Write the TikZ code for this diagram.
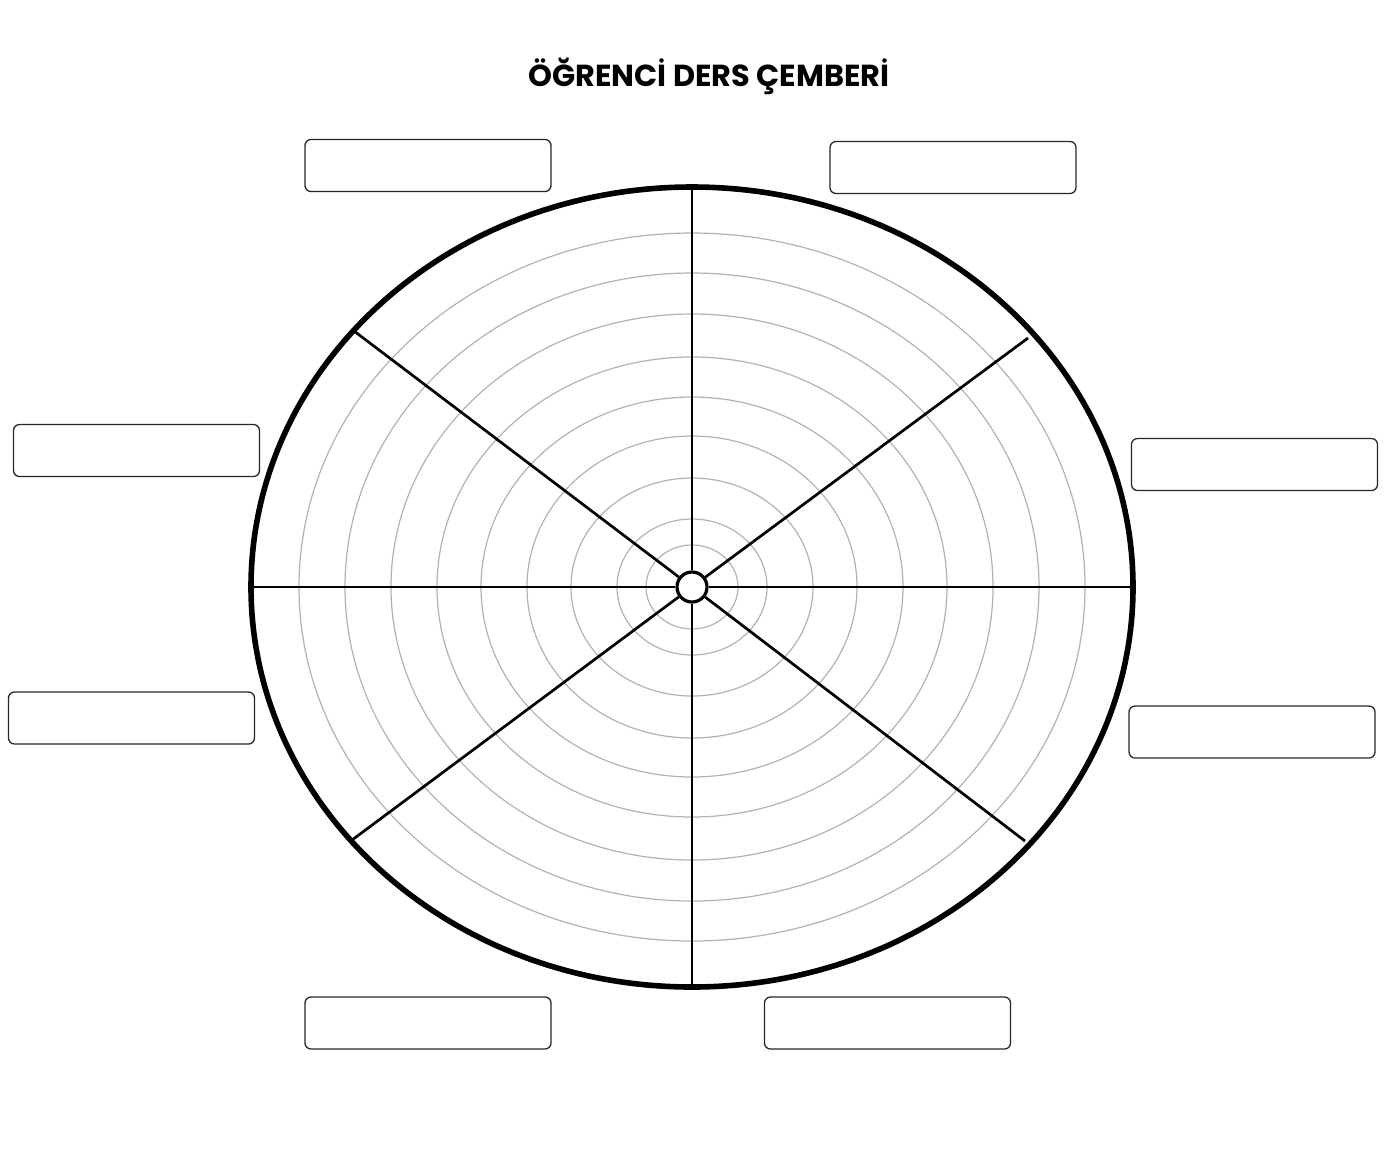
\documentclass[tikz,border=0pt]{standalone}
\usepackage{fontspec}
\newfontfamily\titlefont{Poppins}
\begin{document}
\begin{tikzpicture}[x=0.5pt, y=-0.5pt,
  rim/.style = {line width=2.8pt},
  ring/.style = {black!30, line width=0.6pt},
  spoke/.style = {line width=1.35pt},
  hub/.style = {draw, circle, line width=1.6pt, minimum size=15pt, inner sep=0pt, fill=white},
  slot/.style = {draw=black!85, line width=0.65pt, rounded corners=3pt, minimum width=123pt, minimum height=26pt, inner sep=0pt}]
\useasboundingbox (0,0) rectangle (1385,1175);
\node[anchor=base] (title) at (709,86) {\titlefont\bfseries\fontsize{15.2pt}{18pt}\selectfont ÖĞRENCİ DERS ÇEMBERİ};
\node[hub] (hub) at (692,587) {};
% rings
\draw[ring] (hub.center) ellipse [x radius=46, y radius=42];
\draw[ring] (hub.center) ellipse [x radius=75, y radius=68];
\draw[ring] (hub.center) ellipse [x radius=121, y radius=109];
\draw[ring] (hub.center) ellipse [x radius=165, y radius=151];
\draw[ring] (hub.center) ellipse [x radius=211, y radius=190];
\draw[ring] (hub.center) ellipse [x radius=255, y radius=230];
\draw[ring] (hub.center) ellipse [x radius=301, y radius=273];
\draw[ring] (hub.center) ellipse [x radius=347, y radius=314];
\draw[ring] (hub.center) ellipse [x radius=393, y radius=354];
% rim points
\coordinate (rimN) at (692,189);
\coordinate (rimS) at (692,986);
\coordinate (rimW) at (252,587);
\coordinate (rimE) at (1131,587);
\coordinate (rimNW) at (354,331);
\coordinate (rimNE) at (1028,338);
\coordinate (rimSW) at (352,840);
\coordinate (rimSE) at (1025,841);
\draw[spoke] (hub) -- (rimN);
\draw[spoke] (hub) -- (rimS);
\draw[spoke] (hub) -- (rimW);
\draw[spoke] (hub) -- (rimE);
\draw[spoke] (hub) -- (rimNW);
\draw[spoke] (hub) -- (rimNE);
\draw[spoke] (hub) -- (rimSW);
\draw[spoke] (hub) -- (rimSE);
\draw[rim] (hub.center) ellipse [x radius=441, y radius=400];
% boxes
\node[slot] (boxA) at (428,165.5) {};
\node[slot] (boxB) at (953,167.5) {};
\node[slot] (boxC) at (136.5,450.5) {};
\node[slot] (boxD) at (1254.5,464.5) {};
\node[slot] (boxE) at (131.5,718) {};
\node[slot] (boxF) at (1252,732) {};
\node[slot] (boxG) at (428,1023) {};
\node[slot] (boxH) at (887.5,1023) {};
\end{tikzpicture}
\end{document}
